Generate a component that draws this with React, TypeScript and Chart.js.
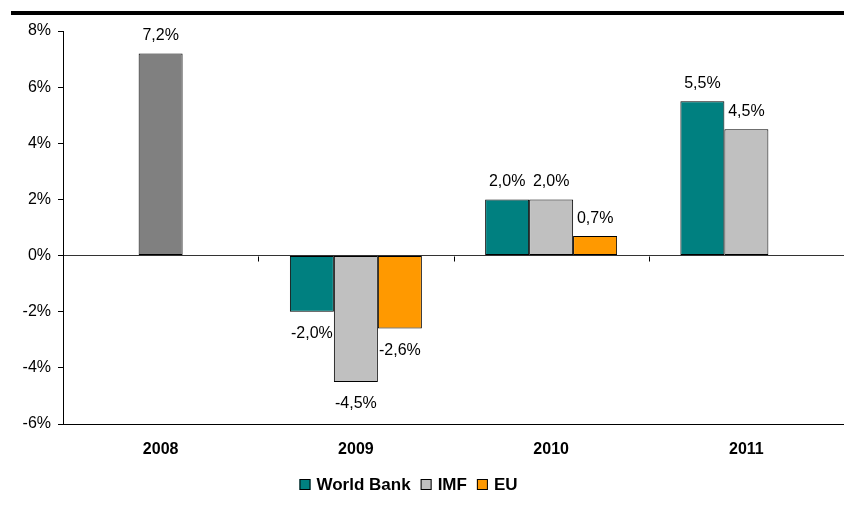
import React, { useEffect, useRef } from "react";
import { Chart, registerables } from "chart.js";

Chart.register(...registerables);

const categories = ["2008", "2009", "2010", "2011"];
const worldBank = [null, -2.0, 2.0, 5.5];
const imf = [null, -4.5, 2.0, 4.5];
const eu = [null, -2.6, 0.7, null];
const actual = [7.2, null, null, null];
const yTicks = [-6, -4, -2, 0, 2, 4, 6, 8];

const FONT = "'Liberation Sans', Arial, sans-serif";

const fmt = (v: number) => v.toFixed(1).replace(".", ",") + "%";

const extras = {
  id: "extras",
  afterDatasetsDraw(chart: any) {
    const ctx = chart.ctx;
    const area = chart.chartArea;
    const y = chart.scales.y;
    ctx.save();
    // top rule
    ctx.fillStyle = "#000";
    ctx.fillRect(11, 11, chart.width - 11, 4);
    // category boundary ticks on zero line
    const y0 = Math.round(y.getPixelForValue(0)) + 0.5;
    ctx.strokeStyle = "#000";
    ctx.lineWidth = 1;
    const cw = (area.right - area.left) / categories.length;
    for (let i = 1; i < categories.length; i++) {
      const x = Math.round(area.left + i * cw) + 0.5;
      ctx.beginPath();
      ctx.moveTo(x, y0);
      ctx.lineTo(x, y0 + 5);
      ctx.stroke();
    }
    // data labels
    ctx.font = `16px ${FONT}`;
    ctx.fillStyle = "#000";
    ctx.textAlign = "center";
    ctx.textBaseline = "alphabetic";
    chart.data.datasets.forEach((ds: any, di: number) => {
      const meta = chart.getDatasetMeta(di);
      meta.data.forEach((el: any, i: number) => {
        const v = ds.data[i];
        if (v === null || v === undefined) return;
        const ty = v >= 0 ? el.y - 13 : el.y + 26;
        ctx.fillText(fmt(v), el.x, ty);
      });
    });
    // legend
    const items = chart.data.datasets.filter((d: any) => d.showInLegend);
    ctx.font = `bold 17px ${FONT}`;
    ctx.textAlign = "left";
    const box = 11;
    const gapBT = 6;
    const gapItem = 10;
    let total = 0;
    items.forEach((d: any, i: number) => {
      total += box + gapBT + ctx.measureText(d.label).width;
      if (i < items.length - 1) total += gapItem;
    });
    let x = 408.5 - total / 2;
    const by = 479;
    items.forEach((d: any) => {
      ctx.fillStyle = d.legendColor;
      ctx.fillRect(x, by, box, box);
      ctx.strokeStyle = "#000";
      ctx.lineWidth = 1;
      ctx.strokeRect(x + 0.5, by + 0.5, box - 1, box - 1);
      x += box + gapBT;
      ctx.fillStyle = "#000";
      ctx.fillText(d.label, x, 490);
      x += ctx.measureText(d.label).width + gapItem;
    });
    ctx.restore();
  },
};

export default function App() {
  const ref = useRef<HTMLCanvasElement | null>(null);
  useEffect(() => {
    if (!ref.current) return;
    Chart.defaults.font.family = FONT;
    const common = { borderColor: "#000", borderWidth: 1, borderSkipped: false };
    const chart = new Chart(ref.current, {
      type: "bar",
      data: {
        labels: categories,
        datasets: [
          { label: "World Bank", data: worldBank, backgroundColor: "#008080", stack: "a", showInLegend: true, legendColor: "#008080", ...common } as any,
          { label: "IMF", data: imf, backgroundColor: "#C0C0C0", stack: "b", showInLegend: true, legendColor: "#C0C0C0", ...common } as any,
          { label: "EU", data: eu, backgroundColor: "#FF9900", stack: "c", showInLegend: true, legendColor: "#FF9900", ...common } as any,
          { label: "2008", data: actual, backgroundColor: "#808080", stack: "b", showInLegend: false, ...common } as any,
        ],
      },
      options: {
        animation: false,
        responsive: true,
        maintainAspectRatio: false,
        layout: { padding: { top: 31, left: 0, right: 0, bottom: 0 } },
        datasets: { bar: { barPercentage: 1, categoryPercentage: 0.676 } },
        plugins: { legend: { display: false }, tooltip: { enabled: false } },
        scales: {
          x: {
            grid: { display: false, drawTicks: false },
            border: { display: true, color: "#000", width: 1 },
            ticks: { color: "#000", font: { size: 16, weight: "bold" }, padding: 16 },
            afterFit: (s: any) => { s.height = 84; },
          },
          y: {
            stacked: false,
            min: -6,
            max: 8,
            afterBuildTicks: (s: any) => { s.ticks = yTicks.map((v) => ({ value: v })); },
            grid: {
              color: (c: any) => (c.tick && c.tick.value === 0 ? "#333" : "rgba(0,0,0,0)"),
              tickColor: "#000",
              tickLength: 5,
              drawTicks: true,
            },
            border: { display: true, color: "#000", width: 1 },
            ticks: { color: "#000", font: { size: 16 }, padding: 7, callback: (v: any) => v + "%" },
            afterFit: (s: any) => { s.width = 63; },
          },
        },
      } as any,
      plugins: [extras],
    });
    return () => chart.destroy();
  }, []);
  return (
    <div style={{ position: "fixed", left: 0, top: 0, width: 844, height: 508, background: "#fff" }}>
      <canvas ref={ref} />
    </div>
  );
}
